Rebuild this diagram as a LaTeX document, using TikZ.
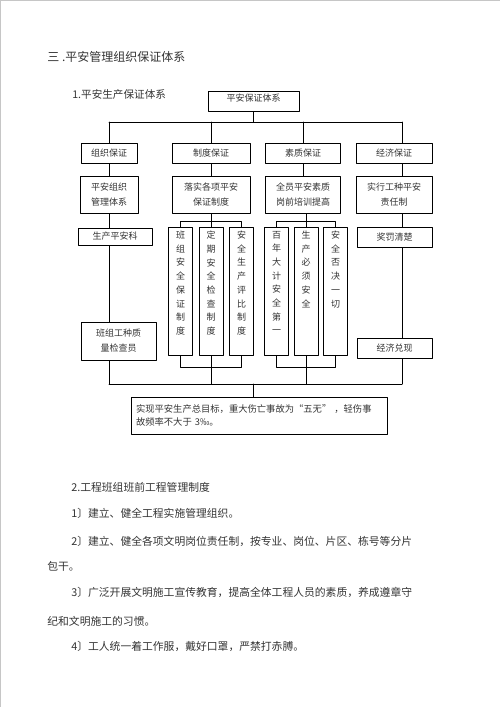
\documentclass[tikz,border=0pt]{standalone}
\usepackage{fontspec}
\setmainfont{Noto Sans CJK SC}
\usetikzlibrary{calc}
\newcommand\vcol[1]{\parbox[c][120pt][t]{10pt}{\centering\fontsize{9}{13.7}\selectfont #1}}
\begin{document}
\begin{tikzpicture}[x=1pt, y=-1pt, line width=0.7pt, line join=round, line cap=round,
	font=\fontsize{9}{15}\selectfont, text=black!80,
	box/.style={draw=black, inner sep=0pt, align=center, minimum height=20pt},
	colbox/.style={draw=black, inner sep=3pt, minimum width=24pt, minimum height=128pt},
	body/.style={anchor=west, inner sep=0pt, font=\fontsize{10.8}{13}\selectfont}]
	\useasboundingbox (0,0) rectangle (500,707);
	\draw[gray!45, line width=0.8pt] (0.5,707) -- (0.5,0.5) -- (500,0.5);
	% Tiêu đề
	\node[anchor=west, inner sep=0pt, font=\fontsize{12}{14}\selectfont] (ttl) at (47,57) {三 .平安管理组织保证体系};
	\node[anchor=west, inner sep=0pt, font=\fontsize{10.6}{13}\selectfont] (sub1) at (72,94) {1.平安生产保证体系};
	\node[box, minimum width=91pt, text depth=6pt] (top) at (253.5,101) {平安保证体系};
	\coordinate (bl) at (109,122); \coordinate (br) at (402,122);
	\coordinate (ft) at (0,221); \coordinate (fb) at (0,367); \coordinate (bot) at (0,384);
	% hàng 2, hàng 3
	\node[box, minimum width=56pt] (z1) at (109,153) {组织保证};
	\node[box, minimum width=78pt] (z2) at (211,153) {制度保证};
	\node[box, minimum width=75pt] (z3) at (303,153) {素质保证};
	\node[box, minimum width=76pt] (z4) at (394,153) {经济保证};
	\node[box, minimum width=58pt, minimum height=37pt] (g1) at (109,194.5) {平安组织\\管理体系};
	\node[box, minimum width=78pt, minimum height=37pt] (g2) at (211,194.5) {落实各项平安\\保证制度};
	\node[box, minimum width=75pt, minimum height=37pt] (g3) at (303,194.5) {全员平安素质\\岗前培训提高};
	\node[box, minimum width=76pt, minimum height=37pt] (g4) at (394,194.5) {实行工种平安\\责任制};
	% cột trái, cột phải
	\node[box, minimum width=74pt, minimum height=17pt] (k1) at (115,236.5) {生产平安科};
	\node[box, minimum width=75pt, minimum height=38pt] (k2) at (118.5,341) {班组工种质\\量检查员};
	\node[box, minimum width=75pt] (j1) at (394.5,237) {奖罚清楚};
	\node[box, minimum width=75pt] (j2) at (394.5,348) {经济兑现};
	% các cột dọc
	\node[colbox] (c1) at (180.5,291) {\vcol{班\\组\\安\\全\\保\\证\\制\\度}};
	\node[colbox] (c2) at (211,291) {\vcol{定\\期\\安\\全\\检\\查\\制\\度}};
	\node[colbox] (c3) at (241.5,291) {\vcol{安\\全\\生\\产\\评\\比\\制\\度}};
	\node[colbox] (r1) at (276.5,291) {\vcol{百\\年\\大\\计\\安\\全\\第\\一}};
	\node[colbox] (r2) at (306,291) {\vcol{生\\产\\必\\须\\安\\全}};
	\node[colbox] (r3) at (335.5,291) {\vcol{安\\全\\否\\决\\一\\切}};
	\node[box, minimum width=256pt, minimum height=37pt, text width=246pt, align=left,
		font=\fontsize{9.3}{13}\selectfont] (goal) at (259,415.5)
		{实现平安生产总目标，重大伤亡事故为“五无” ，轻伤事\\故频率不大于 3‰。};
	% đường nối
	\draw (top.south) -- (top.south |- bl);
	\draw (bl) -- (br);
	\draw (bl) -- (z1.north);
	\draw (z2.north |- bl) -- (z2.north);
	\draw (z3.north |- bl) -- (z3.north);
	\draw (br) -- (br |- z4.north);
	\draw (z1.south) -- (g1.north);
	\draw (z2.south) -- (g2.north);
	\draw (z3.south) -- (g3.north);
	\draw (br |- z4.south) -- (br |- g4.north);
	\draw (g1.south) -- (g1.south |- k1.north);
	\draw (g1.south |- k1.south) -- (g1.south |- k2.north);
	\draw (g1.south |- k2.south) -- (g1.south |- bot);
	\draw (g2.south) -- (c2.north);
	\draw (c1.north) -- (c1.north |- ft) -- (c3.north |- ft) -- (c3.north);
	\draw (c1.south) -- (c1.south |- fb) -- (c3.south |- fb) -- (c3.south);
	\draw (c2.south) -- (c2.south |- bot);
	\draw (r2.north |- g3.south) -- (r2.north);
	\draw (r1.north) -- (r1.north |- ft) -- (r3.north |- ft) -- (r3.north);
	\draw (r1.south) -- (r1.south |- fb) -- (r3.south |- fb) -- (r3.south);
	\draw (r2.south) -- (r2.south |- bot);
	\draw (br |- g4.south) -- (br |- j1.north);
	\draw (br |- j1.south) -- (br |- j2.north);
	\draw (br |- j2.south) -- (br |- bot);
	\draw (g1.south |- bot) -- (br |- bot);
	\draw (top.south |- bot) -- (top.south |- goal.north);
	% phần chữ
	\node[body] (sub2) at (71,487) {2.工程班组班前工程管理制度};
	\node[body] (it1) at (71,513) {1〕建立、健全工程实施管理组织。};
	\node[body] (it2) at (71,541) {2〕建立、健全各项文明岗位责任制，按专业、岗位、片区、栋号等分片};
	\node[body] (it2b) at (47,566) {包干。};
	\node[body] (it3) at (71,592) {3〕广泛开展文明施工宣传教育，提高全体工程人员的素质，养成遵章守};
	\node[body] (it3b) at (47,621) {纪和文明施工的习惯。};
	\node[body] (it4) at (71,646) {4〕工人统一着工作服，戴好口罩，严禁打赤膊。};
\end{tikzpicture}
\end{document}
